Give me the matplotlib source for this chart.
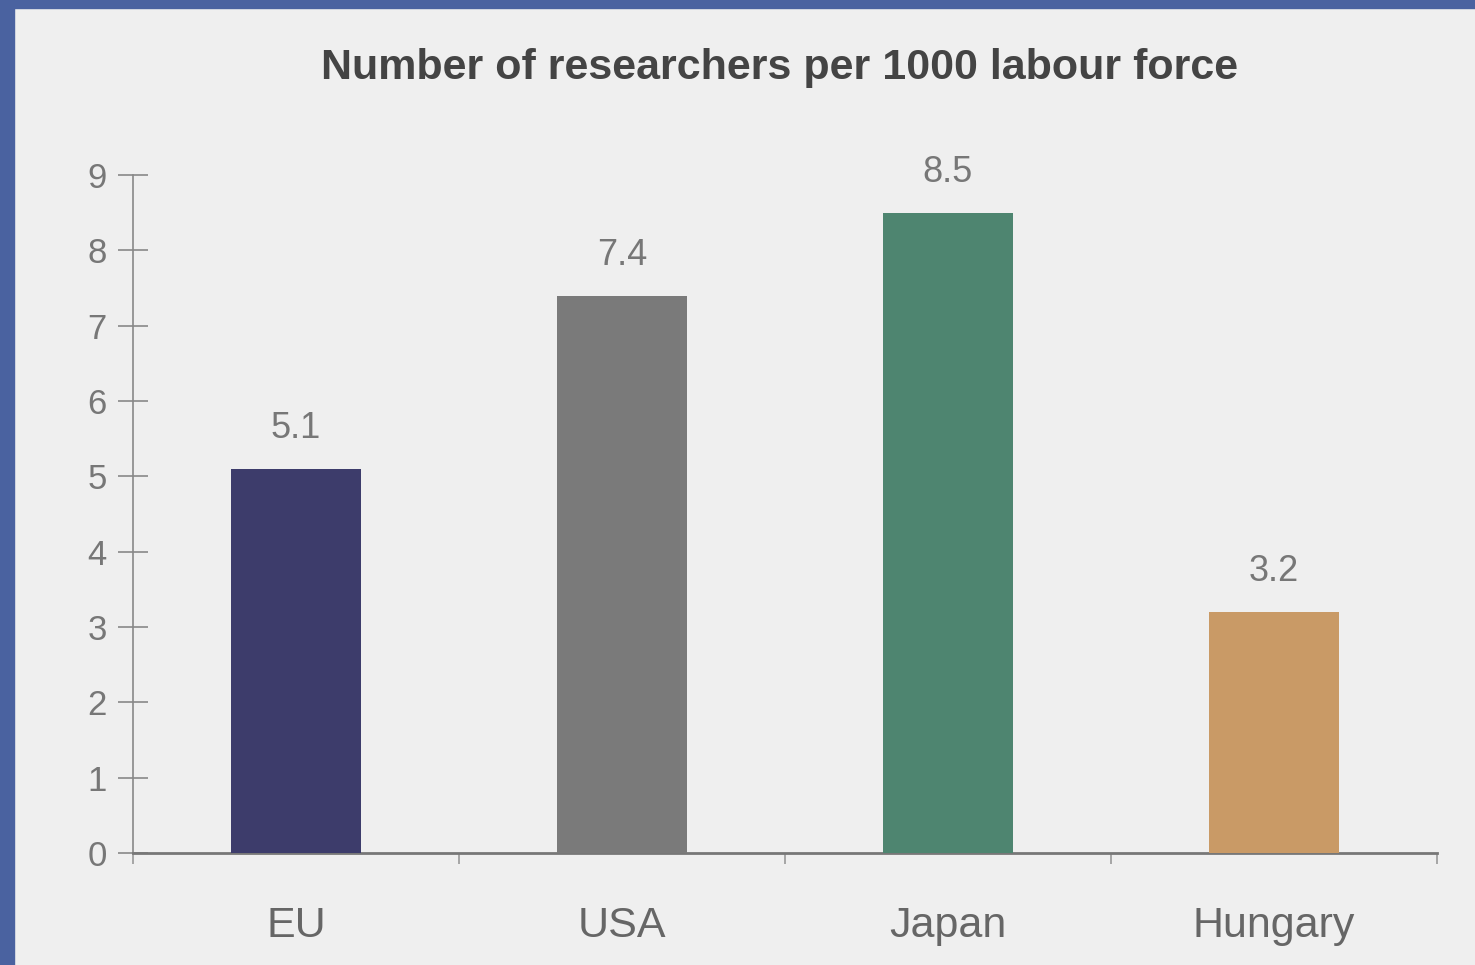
import numpy as np
import matplotlib
matplotlib.use('Agg')
import matplotlib.pyplot as plt
from matplotlib.patches import Rectangle

# Data
categories = ['EU', 'USA', 'Japan', 'Hungary']
values = [5.1, 7.4, 8.5, 3.2]
colors = ['#3d3c6b', '#7a7a7a', '#4e8570', '#c99a66']
yticks = list(range(0, 10))

plt.rcParams['font.family'] = ['Liberation Sans', 'DejaVu Sans']

fig = plt.figure(figsize=(14.75, 9.65), dpi=100, facecolor='#efefef')

# slide border (blue left and top edge)
fig.patches.append(Rectangle((0, 0), 14 / 1475, 1, transform=fig.transFigure,
                             color='#4a62a0', zorder=0))
fig.patches.append(Rectangle((0, 1 - 8 / 965), 1, 8 / 965, transform=fig.transFigure,
                             color='#4a62a0', zorder=0))

ax = fig.add_axes([133 / 1475, 1 - 853 / 965, (1437 - 133) / 1475, (853 - 175) / 965])
ax.set_facecolor('#efefef')

x = np.arange(len(categories))
bars = ax.bar(x, values, width=0.4, color=colors, zorder=3)

for xi, v in zip(x, values):
    ax.text(xi, v + 0.3, f'{v}', ha='center', va='bottom', fontsize=26, color='#777777')

ax.set_xlim(-0.5, len(categories) - 0.5)
ax.set_ylim(0, 9)
ax.set_yticks(yticks)
ax.set_yticklabels([str(t) for t in yticks], fontsize=25, color='#777777')
ax.tick_params(axis='y', direction='inout', length=22, width=1.2, color='#888888', pad=8)

# category boundaries as x ticks, labels at centers
ax.set_xticks(np.arange(-0.5, len(categories), 1.0))
ax.set_xticklabels([])
ax.set_xticks(x, minor=True)
ax.set_xticklabels(categories, minor=True, fontsize=31, color='#666666')
ax.tick_params(axis='x', which='major', direction='out', length=8, width=1.2, color='#999999')
ax.tick_params(axis='x', which='minor', length=0, pad=38)

for s in ['top', 'right']:
    ax.spines[s].set_visible(False)
ax.spines['left'].set_color('#888888')
ax.spines['bottom'].set_color('#777777')
ax.spines['left'].set_linewidth(1.2)
ax.spines['bottom'].set_linewidth(2)

fig.text(780 / 1475, 1 - 68 / 965, 'Number of researchers per 1000 labour force',
         ha='center', va='center', fontsize=31, fontweight='bold', color='#444444')

fig.savefig('out.png', dpi=100, facecolor=fig.get_facecolor())
